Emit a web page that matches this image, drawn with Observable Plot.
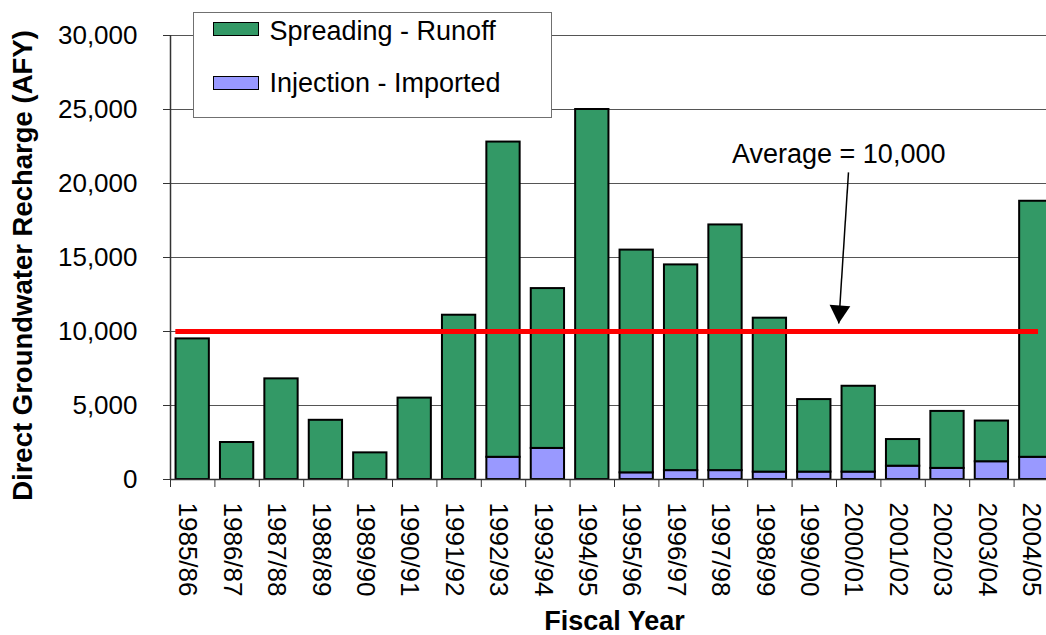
<!DOCTYPE html>
<html><head><meta charset="utf-8">
<script src="https://cdn.jsdelivr.net/npm/d3@7"></script>
<script src="https://cdn.jsdelivr.net/npm/@observablehq/plot@0.6"></script>
<style>
body{margin:0;background:#fff;font-family:"Liberation Sans",Arial,sans-serif;}
#wrap{position:relative;width:1046px;height:635px;overflow:hidden;background:#fff;}
#legend{position:absolute;left:193px;top:12px;width:357px;height:104px;border:1.5px solid #707070;background:#fff;}
.sw{position:absolute;left:18.5px;width:44px;height:12px;border:1.5px solid #000;}
.lt{position:absolute;left:75.5px;font-size:27px;line-height:27px;white-space:nowrap;color:#000;}
</style></head><body>
<div id="wrap"><div id="chart"></div><div id="legend"></div></div>
<script>
const years = ["1985/86","1986/87","1987/88","1988/89","1989/90","1990/91","1991/92","1992/93","1993/94","1994/95","1995/96","1996/97","1997/98","1998/99","1999/00","2000/01","2001/02","2002/03","2003/04","2004/05"];
const spreading = [9500,2500,6800,4000,1800,5500,11100,21300,10800,25000,15050,13900,16600,10400,4900,5800,1800,3850,2750,17300];
const injection = [0,0,0,0,0,0,0,1500,2100,0,450,600,600,500,500,500,900,750,1200,1500];
const seriesNames = ["Spreading - Runoff","Injection - Imported"];
const seriesColors = ["#339966","#9999FF"];
const yTicks = [0,5000,10000,15000,20000,25000,30000];
const average = 10000;
const annotationText = "Average = 10,000";
const yTitle = "Direct Groundwater Recharge (AFY)";
const xTitle = "Fiscal Year";

const rows = [];
years.forEach((yr, i) => {
  if (injection[i] > 0) rows.push({i, year: yr, series: seriesNames[1], value: injection[i]});
  rows.push({i, year: yr, series: seriesNames[0], value: spreading[i]});
});
const pad = 0.125;
const note = {x: 15.05, y: 22000, ax: 15.27, ay: 20750, tx: 15.05, ty: 10540};

const chart = Plot.plot({
  width: 1046, height: 635,
  marginLeft: 170, marginRight: 0, marginTop: 35, marginBottom: 156,
  style: {fontFamily: "'Liberation Sans', Arial, sans-serif", fontSize: "26px", color: "#000", background: "#fff"},
  x: {type: "linear", domain: [0, years.length], range: [170, 170 + 44.4 * years.length]},
  y: {domain: [0, 30000], range: [479, 35]},
  color: {domain: seriesNames, range: seriesColors},
  marks: [
    Plot.ruleY(yTicks.slice(1), {stroke: "#555", strokeWidth: 1}),
    Plot.rectY(rows, Plot.stackY({x1: d => d.i + pad, x2: d => d.i + 1 - pad, y: "value", fill: "series", stroke: "#000", strokeWidth: 2})),
    Plot.ruleY([average], {x1: 0.12, x2: 19.55, stroke: "#FF0000", strokeWidth: 5}),
    Plot.ruleX([0], {stroke: "#333", strokeWidth: 1.5}),
    Plot.ruleY([0], {stroke: "#333", strokeWidth: 1.5}),
    Plot.axisY({ticks: yTicks, tickFormat: d3.format(","), tickSize: 7, tickPadding: 26, label: null, fontSize: 26, stroke: "#333"}),
    Plot.axisX({ticks: d3.range(years.length + 1), tickFormat: () => "", tickSize: 8, label: null, stroke: "#333"}),
    Plot.axisX({ticks: years.map((_, i) => i + 0.5), tickFormat: d => years[Math.floor(d)], tickSize: 0, tickPadding: 23, tickRotate: 90, label: null, fontSize: 26, dx: -5}),
    Plot.link([note], {x1: "ax", y1: "ay", x2: "tx", y2: "ty", stroke: "#000", strokeWidth: 1.5}),
    Plot.dot([note], {x: "tx", y: "ty", symbol: "triangle", r: 7.7, fill: "#000", stroke: "none", rotate: 184, dy: -12, dx: 0.8}),
    Plot.text([note], {x: "x", y: "y", text: () => annotationText, fontSize: 27, textAnchor: "middle", lineAnchor: "middle"}),
    Plot.text([yTitle], {frameAnchor: "left", text: d => d, rotate: -90, dx: -147, dy: 8, fontWeight: "bold", fontSize: 27.5, lineAnchor: "middle", textAnchor: "middle"}),
    Plot.text([xTitle], {frameAnchor: "bottom", text: d => d, dx: 6, dy: 142, fontWeight: "bold", fontSize: 27, lineAnchor: "middle", textAnchor: "middle"})
  ]
});
document.getElementById("chart").appendChild(chart);

const legend = document.getElementById("legend");
seriesNames.forEach((name, k) => {
  const sw = document.createElement("div");
  sw.className = "sw";
  sw.style.top = (9 + k * 54) + "px";
  sw.style.background = seriesColors[k];
  legend.appendChild(sw);
  const t = document.createElement("div");
  t.className = "lt";
  t.style.top = (4.5 + k * 52.5) + "px";
  t.textContent = name;
  legend.appendChild(t);
});
</script>
</body></html>
